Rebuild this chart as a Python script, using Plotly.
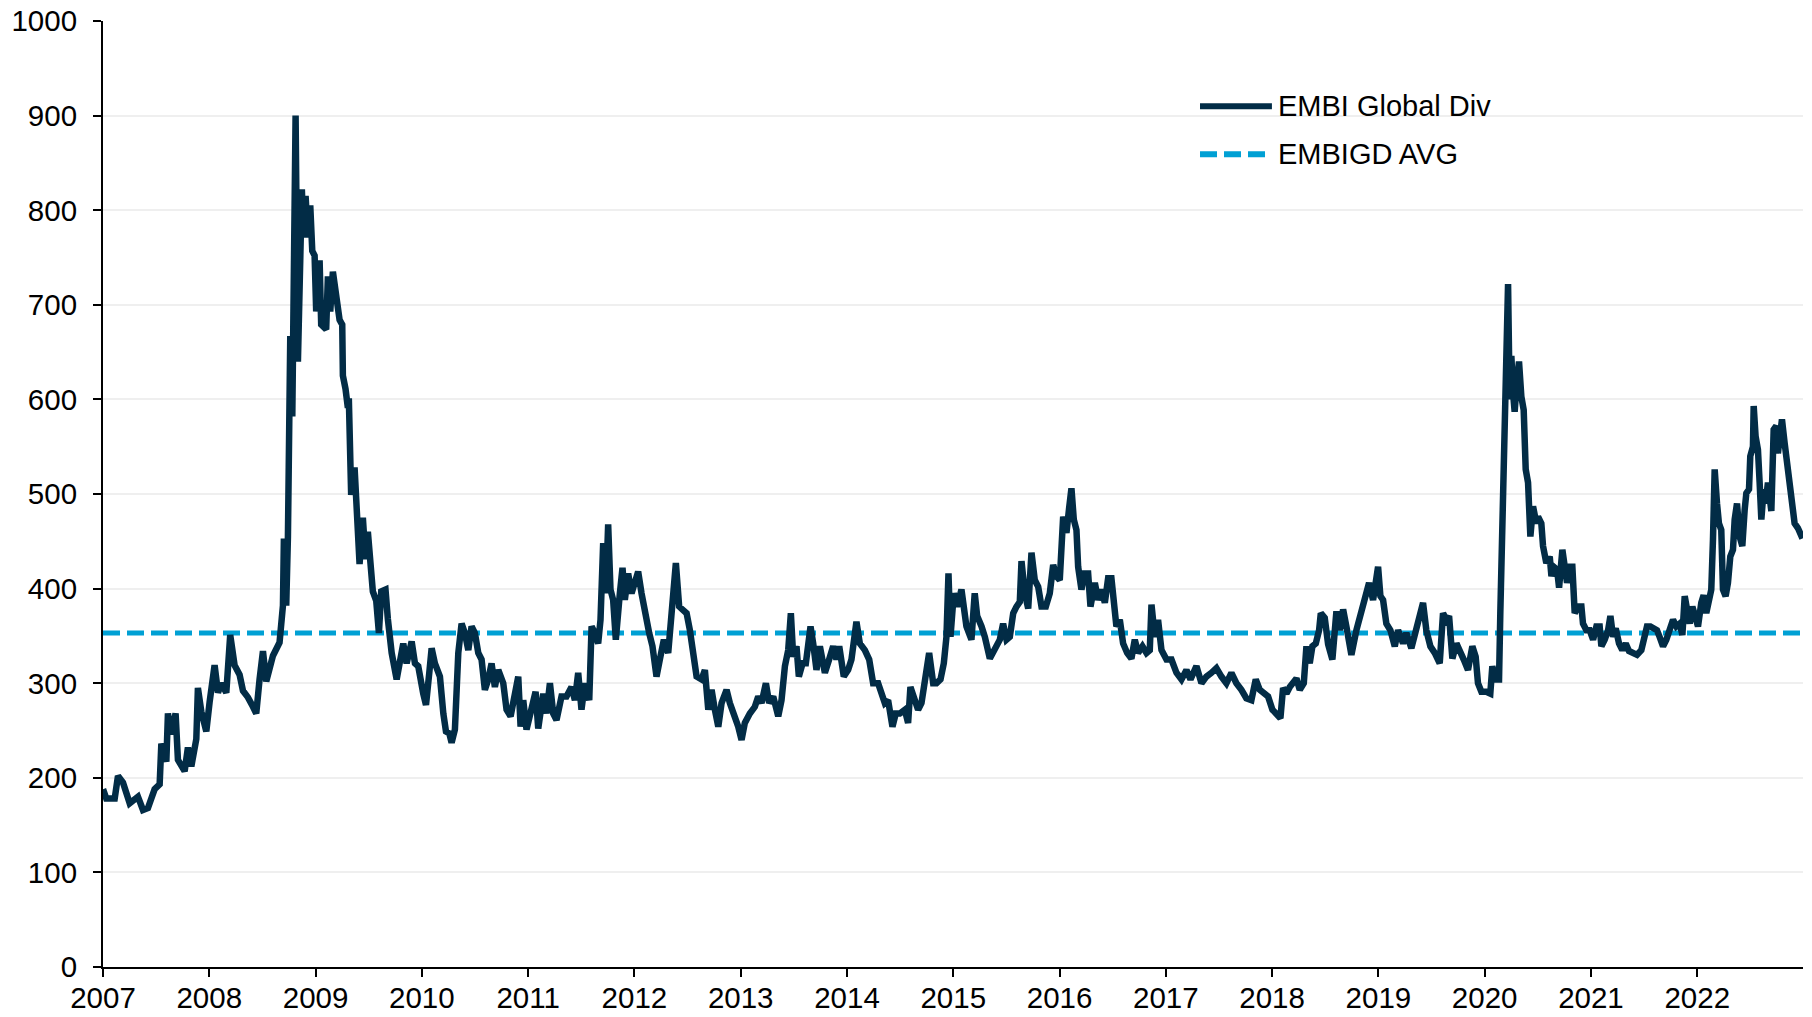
import plotly.graph_objects as go

# ---------------- data (decimal year, spread in bp) ----------------
years_0709 = [2007.000, 2007.031, 2007.110, 2007.141, 2007.188, 2007.251, 2007.329, 2007.376, 2007.423, 2007.486,
              2007.533, 2007.549, 2007.596, 2007.611, 2007.643, 2007.683, 2007.705, 2007.768, 2007.799, 2007.831,
              2007.878, 2007.893, 2007.925, 2007.972, 2008.003, 2008.050, 2008.082, 2008.113, 2008.160, 2008.176,
              2008.197, 2008.238, 2008.285, 2008.317, 2008.364, 2008.411, 2008.442, 2008.473, 2008.505, 2008.536,
              2008.599, 2008.661, 2008.693, 2008.702, 2008.724, 2008.740, 2008.762, 2008.781, 2008.796, 2008.812,
              2008.834, 2008.850, 2008.871, 2008.887, 2008.906, 2008.928, 2008.950, 2008.969, 2008.991, 2009.006,
              2009.038, 2009.053, 2009.100, 2009.116, 2009.138, 2009.163, 2009.201, 2009.226, 2009.251, 2009.257,
              2009.282, 2009.304, 2009.313, 2009.335, 2009.367, 2009.389, 2009.414, 2009.445, 2009.470, 2009.492,
              2009.514, 2009.539, 2009.571, 2009.596, 2009.618, 2009.658, 2009.680]
spread_0709 = [188, 178, 178, 202, 195, 173, 180, 166, 168, 188,
               193, 236, 217, 268, 246, 268, 219, 207, 232, 212,
               241, 295, 270, 249, 280, 319, 290, 300, 290, 319,
               351, 319, 309, 292, 285, 275, 268, 304, 334, 302,
               329, 343, 382, 453, 382, 455, 667, 582, 771, 900,
               640, 732, 822, 771, 815, 771, 805, 757, 752, 693,
               747, 679, 674, 730, 693, 735, 708, 684, 679, 625,
               611, 591, 601, 499, 528, 489, 426, 475, 431, 460,
               426, 397, 387, 353, 397, 399, 368]

years_1012 = [2009.716, 2009.763, 2009.794, 2009.825, 2009.857, 2009.904, 2009.935, 2009.966,
              2010.013, 2010.039, 2010.070, 2010.092, 2010.123, 2010.170, 2010.202, 2010.227, 2010.258, 2010.280,
              2010.311, 2010.343, 2010.374, 2010.405, 2010.437, 2010.468, 2010.499, 2010.531, 2010.562, 2010.593,
              2010.625, 2010.656, 2010.687, 2010.719, 2010.766, 2010.797, 2010.835, 2010.876, 2010.907, 2010.929,
              2010.954, 2010.985,
              2011.032, 2011.070, 2011.095, 2011.142, 2011.173, 2011.205, 2011.236, 2011.267, 2011.314, 2011.361,
              2011.408, 2011.440, 2011.471, 2011.502, 2011.534, 2011.575, 2011.597, 2011.628, 2011.659, 2011.681,
              2011.706, 2011.731, 2011.753, 2011.775, 2011.800, 2011.825, 2011.863, 2011.888, 2011.910, 2011.941,
              2011.973,
              2012.004, 2012.035, 2012.067, 2012.098, 2012.139, 2012.170, 2012.208, 2012.239, 2012.277, 2012.318,
              2012.358, 2012.390, 2012.421]
spread_1012 = [332, 304, 321, 342, 321, 344, 321, 318,
               289, 277, 311, 337, 321, 307, 268, 249, 247, 237,
               251, 332, 363, 353, 335, 360, 353, 332, 325, 293,
               304, 321, 296, 314, 300, 272, 265, 289, 307, 254,
               282, 251,
               272, 291, 252, 289, 268, 300, 268, 261, 286, 286,
               296, 282, 311, 272, 300, 282, 360, 353, 342, 367,
               448, 395, 468, 399, 388, 346, 395, 422, 388, 416,
               395,
               409, 418, 395, 374, 353, 339, 307, 325, 346, 332,
               392, 427, 381]

years_1315 = [2012.459, 2012.491, 2012.522, 2012.553, 2012.585, 2012.632, 2012.663, 2012.695, 2012.726, 2012.757,
              2012.789, 2012.820, 2012.867, 2012.898, 2012.945, 2012.977,
              2013.008, 2013.039, 2013.086, 2013.133, 2013.165, 2013.196, 2013.237, 2013.268, 2013.306, 2013.353,
              2013.384, 2013.416, 2013.447, 2013.472, 2013.494, 2013.525, 2013.547, 2013.582, 2013.613, 2013.657,
              2013.682, 2013.713, 2013.745, 2013.792, 2013.832, 2013.870, 2013.901, 2013.927, 2013.970,
              2014.011, 2014.042, 2014.064, 2014.089, 2014.121, 2014.168, 2014.209, 2014.246, 2014.293, 2014.325,
              2014.356, 2014.387, 2014.428, 2014.459, 2014.497, 2014.544, 2014.575, 2014.597, 2014.629, 2014.669,
              2014.701, 2014.742, 2014.773, 2014.811, 2014.842, 2014.880, 2014.911, 2014.936, 2014.955, 2014.974,
              2015.005, 2015.036, 2015.077, 2015.124, 2015.171, 2015.202]
spread_1315 = [378, 374, 356, 335, 307, 304, 314, 272, 293, 272,
               254, 279, 293, 279, 265, 254,
               240, 258, 268, 275, 286, 279, 300, 279, 286, 265,
               282, 318, 335, 374, 328, 339, 307, 321, 321, 360,
               342, 314, 339, 311, 325, 339, 325, 339, 307,
               314, 325, 349, 365, 342, 335, 325, 300, 300, 289,
               279, 282, 254, 268, 268, 272, 258, 296, 286, 272,
               279, 304, 332, 300, 300, 304, 321, 349, 416, 349,
               395, 381, 399, 360, 346, 395]

years_1517 = [2015.225, 2015.266, 2015.297, 2015.344, 2015.391, 2015.438, 2015.469, 2015.501, 2015.532, 2015.564,
              2015.595, 2015.626, 2015.642, 2015.673, 2015.705, 2015.736, 2015.767, 2015.799, 2015.830, 2015.871,
              2015.908, 2015.940, 2015.971,
              2016.002, 2016.034, 2016.065, 2016.090, 2016.112, 2016.134, 2016.159, 2016.175, 2016.206, 2016.237,
              2016.269, 2016.291, 2016.332, 2016.363, 2016.394, 2016.426, 2016.457, 2016.488, 2016.510, 2016.535,
              2016.567, 2016.598, 2016.636, 2016.676, 2016.708, 2016.739, 2016.780, 2016.818, 2016.849, 2016.865,
              2016.896, 2016.927, 2016.959,
              2017.006, 2017.053, 2017.100, 2017.147, 2017.194, 2017.232, 2017.288, 2017.335, 2017.382, 2017.429,
              2017.476, 2017.523, 2017.570, 2017.617, 2017.664, 2017.711, 2017.758, 2017.805, 2017.846]
spread_1517 = [371, 360, 349, 326, 335, 346, 363, 346, 349, 374,
               381, 386, 429, 395, 379, 438, 409, 402, 381, 381,
               395, 425, 413,
               409, 476, 459, 485, 506, 473, 462, 423, 399, 416,
               416, 381, 406, 388, 399, 385, 411, 411, 381, 360,
               367, 342, 332, 326, 346, 332, 339, 332, 335, 383,
               349, 367, 335,
               325, 325, 311, 304, 314, 304, 318, 300, 307, 311,
               316, 307, 300, 311, 300, 293, 284, 282, 304]

years_1820 = [2017.884, 2017.962,
              2018.003, 2018.041, 2018.078, 2018.103, 2018.135, 2018.166, 2018.229, 2018.260, 2018.298, 2018.323,
              2018.354, 2018.379, 2018.411, 2018.442, 2018.458, 2018.495, 2018.527, 2018.567, 2018.589, 2018.605,
              2018.636, 2018.668, 2018.705, 2018.746, 2018.793, 2018.824, 2018.856, 2018.881, 2018.912, 2018.950,
              2018.975, 2018.997,
              2019.019, 2019.044, 2019.075, 2019.113, 2019.154, 2019.185, 2019.232, 2019.263, 2019.310, 2019.357,
              2019.389, 2019.420, 2019.451, 2019.489, 2019.530, 2019.577, 2019.608, 2019.640, 2019.665, 2019.696,
              2019.734, 2019.765, 2019.803, 2019.843, 2019.884, 2019.915, 2019.937, 2019.969,
              2020.016, 2020.053, 2020.072, 2020.103, 2020.135, 2020.147, 2020.166, 2020.179, 2020.204, 2020.220,
              2020.235, 2020.251, 2020.267, 2020.282, 2020.304, 2020.323, 2020.345, 2020.367, 2020.386, 2020.408,
              2020.430, 2020.455, 2020.486, 2020.502, 2020.533, 2020.549, 2020.580]
spread_1820 = [293, 286,
               272, 268, 263, 295, 289, 296, 305, 293, 300, 339,
               321, 339, 342, 356, 374, 369, 341, 325, 353, 376,
               356, 378, 356, 330, 356, 369, 385, 399, 406, 388,
               406, 423,
               392, 388, 363, 356, 339, 356, 342, 353, 337, 356,
               367, 385, 356, 339, 332, 321, 374, 367, 371, 326,
               342, 332, 325, 314, 339, 328, 300, 291,
               291, 289, 318, 304, 304, 374, 469, 536, 688, 722,
               600, 646, 607, 587, 621, 640, 603, 589, 526, 512,
               455, 487, 469, 476, 469, 445, 427]

years_2022 = [2020.612, 2020.628, 2020.650, 2020.681, 2020.700, 2020.731, 2020.753, 2020.775, 2020.806, 2020.825,
              2020.847, 2020.878, 2020.910, 2020.925, 2020.957, 2020.988,
              2021.020, 2021.051, 2021.082, 2021.098, 2021.129, 2021.161, 2021.183, 2021.208, 2021.233, 2021.264,
              2021.295, 2021.327, 2021.358, 2021.396, 2021.433, 2021.474, 2021.496, 2021.527, 2021.559, 2021.599,
              2021.621, 2021.646, 2021.678, 2021.709, 2021.741, 2021.772, 2021.803, 2021.835, 2021.860, 2021.882,
              2021.904, 2021.929, 2021.954, 2021.985,
              2022.007, 2022.038, 2022.060, 2022.085, 2022.110, 2022.132, 2022.148, 2022.164, 2022.186, 2022.204,
              2022.226, 2022.242, 2022.267, 2022.289, 2022.311, 2022.336, 2022.352, 2022.374, 2022.399, 2022.424,
              2022.446, 2022.462, 2022.487, 2022.499, 2022.524, 2022.531, 2022.549, 2022.571, 2022.587, 2022.603,
              2022.625, 2022.643, 2022.665, 2022.681, 2022.697, 2022.719, 2022.744, 2022.759, 2022.775, 2022.797,
              2022.822, 2022.853, 2022.885, 2022.916, 2022.947, 2022.990]
spread_2022 = [434, 413, 423, 420, 401, 441, 427, 406, 423, 423,
               374, 381, 381, 363, 356, 356,
               346, 360, 360, 339, 346, 356, 371, 349, 358, 342,
               335, 342, 334, 332, 330, 335, 346, 360, 360, 356,
               356, 349, 339, 346, 360, 367, 360, 363, 351, 392,
               378, 363, 381, 371,
               360, 385, 393, 374, 385, 399, 452, 526, 490, 469,
               462, 399, 392, 406, 434, 441, 473, 490, 455, 445,
               483, 501, 505, 540, 550, 593, 561, 547, 512, 473,
               505, 490, 512, 487, 482, 568, 572, 543, 568, 579,
               554, 526, 494, 469, 464, 453]

AVG_SPREAD = 353  # EMBIGD long-run average

tick_years = [2007, 2008, 2009, 2010, 2011, 2012, 2013, 2014, 2015,
              2016, 2017, 2018, 2019, 2020, 2021, 2022]
tick_labels = [str(y) for y in tick_years]
y_ticks = [0, 100, 200, 300, 400, 500, 600, 700, 800, 900, 1000]

series_names = ["EMBI Global Div", "EMBIGD AVG"]

# ---------------- assemble ----------------
segments = [(years_0709, spread_0709), (years_1012, spread_1012), (years_1315, spread_1315),
            (years_1517, spread_1517), (years_1820, spread_1820), (years_2022, spread_2022)]
x_all, y_all = [], []
for xs, ys in segments:
    assert len(xs) == len(ys), (len(xs), len(ys))
    x_all += xs
    y_all += ys

NAVY = "#022C46"
BLUE = "#00A0D4"
FONT = "Liberation Sans, Arial, sans-serif"
TICK_SIZE = 29.5

fig = go.Figure()
fig.add_trace(go.Scatter(x=[x_all[0], x_all[-1]], y=[AVG_SPREAD, AVG_SPREAD], mode="lines",
                         name=series_names[1],
                         line=dict(color=BLUE, width=5, dash="17px,7px")))
fig.add_trace(go.Scatter(x=x_all, y=y_all, mode="lines", name=series_names[0],
                         line=dict(color=NAVY, width=6.5)))

# custom legend (long line samples like the original)
leg_x0, leg_x1, leg_tx = 0.6453, 0.6876, 0.6900
leg_y = [0.9100, 0.8592]
fig.add_shape(type="line", xref="paper", yref="paper", x0=leg_x0, x1=leg_x1, y0=leg_y[0], y1=leg_y[0],
              line=dict(color=NAVY, width=6))
fig.add_shape(type="line", xref="paper", yref="paper", x0=leg_x0, x1=0.6841, y0=leg_y[1], y1=leg_y[1],
              line=dict(color=BLUE, width=6, dash="17px,7px"))
for name, yy in zip(series_names, leg_y):
    fig.add_annotation(text=name, xref="paper", yref="paper", x=leg_tx, y=yy, xanchor="left",
                       yanchor="middle", showarrow=False, font=dict(family=FONT, size=29, color="#000000"))

fig.update_layout(
    width=1812, height=1017,
    margin=dict(l=103, r=9, t=21, b=50),
    paper_bgcolor="white", plot_bgcolor="white",
    showlegend=False,
    font=dict(family=FONT, size=28, color="#000000"),
)
fig.update_xaxes(range=[2007, 2022.995], tickvals=tick_years, ticktext=tick_labels, automargin=False,
                 showgrid=False, zeroline=False, showline=True, linecolor="black", linewidth=2,
                 ticks="outside", ticklen=8, tickwidth=2, tickcolor="black", ticklabelstandoff=-4,
                 tickfont=dict(family=FONT, size=TICK_SIZE, color="black"))
fig.update_yaxes(range=[0, 1000], tickvals=y_ticks, showgrid=True, gridcolor="#EFEFEF", gridwidth=1.5,
                 automargin=False,
                 zeroline=False, showline=True, linecolor="black", linewidth=2,
                 ticks="outside", ticklen=8, tickwidth=2, tickcolor="black", ticklabelstandoff=10,
                 tickfont=dict(family=FONT, size=TICK_SIZE, color="black"))

fig.write_html("out.html", config={"displayModeBar": False},
               post_script="document.body.style.margin='0';")
